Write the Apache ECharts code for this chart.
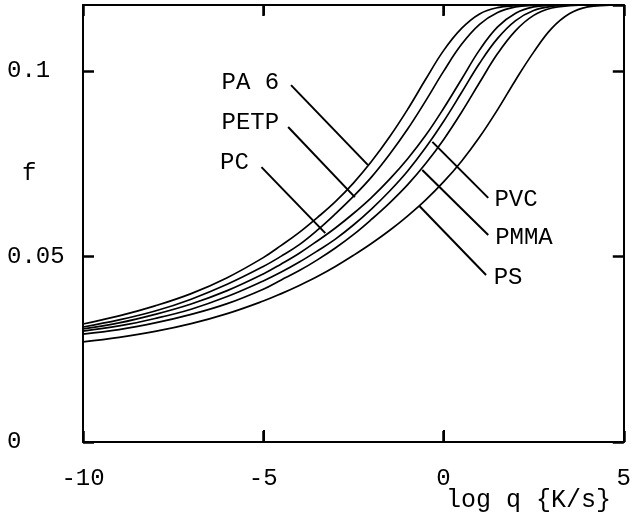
<!DOCTYPE html>
<html>
<head>
<meta charset="utf-8">
<script src="https://cdn.jsdelivr.net/npm/echarts@6/dist/echarts.min.js"></script>
<style>
  html, body { margin: 0; background: #fff; }
  #chart { width: 634px; height: 522px; }
</style>
</head>
<body>
<div id="chart"></div>
<script>
// log q (K/s) vs f
const pa6 = [[-10, 0.0318], [-9, 0.0340], [-8, 0.0367], [-7, 0.0400], [-6, 0.0443], [-5, 0.0497],
  [-4.5, 0.0530], [-4, 0.0565], [-3.5, 0.0605], [-3, 0.0648], [-2.5, 0.0698], [-2, 0.0756],
  [-1.5, 0.0822], [-1, 0.0896], [-0.5, 0.0977], [0, 0.1055], [0.5, 0.1115], [1, 0.1154],
  [1.5, 0.1171], [2, 0.1176], [2.5, 0.1178], [5, 0.1178]]
const petp = [[-10, 0.0310], [-9, 0.0329], [-8, 0.0353], [-7, 0.0385], [-6, 0.0425], [-5, 0.0473],
  [-4.5, 0.0501], [-4, 0.0532], [-3.5, 0.0571], [-3, 0.0615], [-2.5, 0.0662], [-2, 0.0714],
  [-1.5, 0.0775], [-1, 0.0843], [-0.5, 0.0919], [0, 0.0999], [0.5, 0.1072], [1, 0.1126],
  [1.5, 0.1158], [2, 0.1173], [2.5, 0.1177], [3, 0.1178], [5, 0.1178]]
const pc = [[-10, 0.0305], [-9, 0.0321], [-8, 0.0344], [-7, 0.0372], [-6, 0.0408], [-5, 0.0453],
  [-4.5, 0.0480], [-4, 0.0509], [-3.5, 0.0542], [-3, 0.0577], [-2.5, 0.0616], [-2, 0.0659],
  [-1.5, 0.0708], [-1, 0.0763], [-0.5, 0.0826], [0, 0.0899], [0.5, 0.0978], [1, 0.1057],
  [1.5, 0.1119], [2, 0.1156], [2.5, 0.1173], [3, 0.1177], [3.5, 0.1178], [5, 0.1178]]
const pvc = [[-10, 0.0299], [-9, 0.0313], [-8, 0.0333], [-7, 0.0358], [-6, 0.0392], [-5, 0.0434],
  [-4.5, 0.0458], [-4, 0.0485], [-3.5, 0.0515], [-3, 0.0547], [-2.5, 0.0585], [-2, 0.0628],
  [-1.5, 0.0676], [-1, 0.0730], [-0.5, 0.0793], [0, 0.0864], [0.5, 0.0942], [1, 0.1021],
  [1.5, 0.1088], [2, 0.1136], [2.5, 0.1163], [3, 0.1174], [3.5, 0.1178], [5, 0.1178]]
const pmma = [[-10, 0.0291], [-9, 0.0303], [-8, 0.0321], [-7, 0.0344], [-6, 0.0373], [-5, 0.0412],
  [-4.5, 0.0437], [-4, 0.0462], [-3.5, 0.0491], [-3, 0.0523], [-2.5, 0.0559], [-2, 0.0600],
  [-1.5, 0.0644], [-1, 0.0693], [-0.5, 0.0750], [0, 0.0815], [0.5, 0.0889], [1, 0.0969],
  [1.5, 0.1047], [2, 0.1109], [2.5, 0.1150], [3, 0.1170], [3.5, 0.1176], [4, 0.1178], [5, 0.1178]]
const ps = [[-10, 0.0270], [-9, 0.0282], [-8, 0.0298], [-7, 0.0319], [-6, 0.0346], [-5, 0.0380],
  [-4.5, 0.0400], [-4, 0.0422], [-3.5, 0.0446], [-3, 0.0473], [-2.5, 0.0503], [-2, 0.0535],
  [-1.5, 0.0570], [-1, 0.0609], [-0.5, 0.0652], [0, 0.0701], [0.5, 0.0757], [1, 0.0822],
  [1.5, 0.0896], [2, 0.0976], [2.5, 0.1051], [3, 0.1115], [3.5, 0.1155], [4, 0.1173],
  [4.5, 0.1177], [5, 0.1178]]

const names = ['PA 6', 'PETP', 'PC', 'PVC', 'PMMA', 'PS']
// label centre and leader line (from label side to curve), data coords
const labelAt = [[-5.36, 0.0970], [-5.36, 0.0860], [-5.80, 0.0752], [2.01, 0.0652], [2.23, 0.0550], [1.79, 0.0442]]
const leaders = [
  [[-4.23, 0.0962], [-2.10, 0.0747]],
  [[-4.31, 0.0849], [-2.46, 0.0660]],
  [[-5.05, 0.0741], [-3.28, 0.0563]],
  [[-0.31, 0.0809], [1.24, 0.0658]],
  [[-0.59, 0.0733], [1.24, 0.0558]],
  [[-0.67, 0.0636], [1.18, 0.0450]],
]
const xTicks = { min: -10, max: 5, interval: 5 }
const yTicks = { min: 0, max: 0.1178, interval: 0.05 }
const xInnerTicks = [-5, 0]

const font = 'Liberation Mono'
const plotH = 437
const chart = echarts.init(document.getElementById('chart'))

function axis(position, range, label) {
  return {
    type: 'value',
    position: position,
    min: range.min,
    max: range.max,
    interval: range.interval,
    axisLine: { show: true, onZero: false, lineStyle: { color: '#000', width: 2 } },
    axisTick: { show: true, inside: true, length: 11, lineStyle: { color: '#000', width: 2.5 } },
    splitLine: { show: false },
    axisLabel: label || { show: false },
  }
}

// inward x ticks also drawn as short segments (bottom 12px, top 10px)
const tickLen = (px) => px / plotH * (yTicks.max - yTicks.min)
const tickSegs = []
xInnerTicks.forEach((v) => {
  tickSegs.push([{ coord: [v, yTicks.min] }, { coord: [v, yTicks.min + tickLen(12)] }])
  tickSegs.push([{ coord: [v, yTicks.max] }, { coord: [v, yTicks.max - tickLen(10)] }])
})

const series = [pa6, petp, pc, pvc, pmma, ps].map((d, i) => ({
  type: 'line',
  name: names[i],
  data: d,
  showSymbol: false,
  smooth: 0.4,
  lineStyle: { color: '#000', width: 1.7 },
  silent: true,
  markLine: {
    silent: true,
    symbol: 'none',
    label: { show: false },
    lineStyle: { color: '#000', width: 2, type: 'solid' },
    data: [[{ coord: leaders[i][0] }, { coord: leaders[i][1] }]].concat(i === 0 ? tickSegs : []),
  },
  markPoint: {
    silent: true,
    symbol: 'circle',
    symbolSize: 1,
    itemStyle: { color: 'transparent' },
    label: {
      show: true, position: 'inside', formatter: names[i],
      color: '#000', fontFamily: font, fontSize: 24,
    },
    data: [{ coord: labelAt[i] }],
  },
}))

chart.setOption({
  animation: false,
  grid: { left: 83, top: 5, right: 6, bottom: 80 },
  xAxis: [
    axis('bottom', xTicks, { color: '#000', fontFamily: font, fontSize: 24, margin: 25 }),
    axis('top', xTicks),
  ],
  yAxis: [
    axis('left', yTicks, { color: '#000', fontFamily: font, fontSize: 24, margin: 76, align: 'left', showMaxLabel: false }),
    axis('right', yTicks),
  ],
  graphic: [
    { type: 'text', left: 22, top: 162, style: { text: 'f', font: '24px "Liberation Mono"', fill: '#000' } },
    { type: 'text', left: 446, top: 488, style: { text: 'log q {K/s}', font: '25px "Liberation Mono"', fill: '#000' } },
  ],
  series: series,
})
</script>
</body>
</html>
